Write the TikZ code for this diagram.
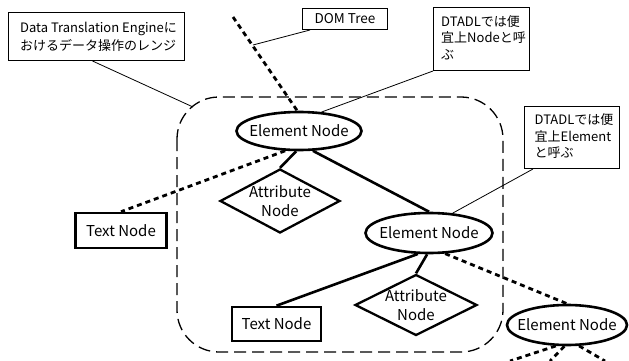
\documentclass[tikz,border=0pt]{standalone}
\usepackage{fontspec}
\setmainfont{Noto Sans CJK JP}
\usetikzlibrary{shapes.geometric}
\begin{document}
\begin{tikzpicture}[x=1pt,y=-1pt,
  every node/.style={font=\fontsize{15}{19}\selectfont},
  elem/.style={ellipse,draw,line width=2.6pt,inner sep=0pt},
  attr/.style={diamond,draw,line width=2.3pt,inner sep=0pt},
  textbox/.style={rectangle,draw,line width=2.6pt,inner sep=0pt},
  callout/.style={rectangle,draw,line width=1pt,align=left,inner sep=0pt,font=\fontsize{13}{18}\selectfont},
  solidline/.style={line width=2.6pt},
  dotline/.style={line width=2.8pt,dash pattern=on 5pt off 4pt},
  leader/.style={line width=0.8pt},
  rangebox/.style={line width=1.3pt,dash pattern=on 12pt off 6pt,rounded corners=42pt}
]
\useasboundingbox (0,0) rectangle (629,361);
% range
\draw[rangebox] (177,97) rectangle (503,352);
% callouts
\node[callout,minimum width=176,minimum height=48,anchor=north west] (c1) at (8,12)
  {\hspace{4pt}Data Translation Engineに\\\hspace{4pt}おけるデータ操作のレンジ};
\node[callout,minimum width=85,minimum height=21,anchor=north west,font=\fontsize{13.5}{15}\selectfont] (dom) at (302,8) {DOM Tree};
\node[callout,minimum width=96,minimum height=63,anchor=north west] (c2) at (433,7)
  {\begin{tabular}{@{\hspace{4pt}}l@{}}DTADLでは便\\[-1.5pt]宜上Nodeと呼\\[-1.5pt]ぶ\end{tabular}};
\node[callout,minimum width=95,minimum height=62,anchor=north west] (c3) at (524,106)
  {\begin{tabular}{@{\hspace{4pt}}l@{}}DTADLでは便\\[-1.5pt]宜上Element\\[-1.5pt]と呼ぶ\end{tabular}};
% nodes
\node[elem,minimum width=125,minimum height=38,label=center:Element Node] (e1) at (299,131) {};
\node[elem,minimum width=127,minimum height=40,label=center:Element Node] (e2) at (429,233) {};
\node[elem,minimum width=120,minimum height=40,label=center:Element Node] (e3) at (567,325) {};
\node[attr,minimum width=120,minimum height=64,label={[align=center,font=\fontsize{15}{19}\selectfont]center:Attribute\\Node}] (d1) at (280,201) {};
\node[attr,minimum width=122,minimum height=61,label={[align=center,font=\fontsize{15}{19}\selectfont]center:Attribute\\Node}] (d2) at (416,305) {};
\node[textbox,minimum width=91,minimum height=35] (t1) at (121,230.5) {Text Node};
\node[textbox,minimum width=89,minimum height=34] (t2) at (276.5,324) {Text Node};
% coordinates
\coordinate (top) at (233,17);
\coordinate (domhit) at (253,45);
\coordinate (corner) at (193,107);
\coordinate (b1) at (510,361);
\coordinate (b2) at (550,361);
\coordinate (b3) at (605,361);
% connectors
\draw[dotline] (top) -- (e1.95);
\draw[solidline] (e1.-98) -- (d1.north);
\draw[solidline] (e1.-55) -- (e2.north);
\draw[dotline] (e1.-125) -- (t1.north);
\draw[solidline] (e2.-118) -- (t2.north);
\draw[solidline] (e2.-95) -- (d2.north);
\draw[dotline] (e2.-52) -- (e3.north);
\draw[dotline] (e3.-118) -- (b1);
\draw[dotline] (e3.-97) -- (b2);
\draw[dotline] (e3.-60) -- (b3);
% leaders
\draw[leader] (c1.south) ++(-4,0) coordinate (c1s) (c1s) -- (corner);
\draw[leader] (dom.south west) ++(8,0) coordinate (doms) (doms) -- (domhit);
\draw[leader] (c2.south west) -- (e1.40);
\draw[leader] (c3.south west) ++(9,0) coordinate (c3s) (c3s) -- (e2.40);
\end{tikzpicture}
\end{document}
